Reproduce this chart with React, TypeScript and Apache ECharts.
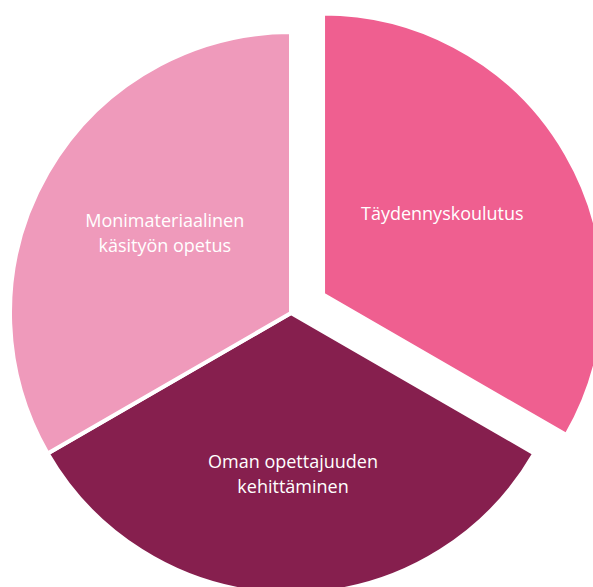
import React, { useEffect, useRef } from "react";
import * as echarts from "echarts";

const categories = ["Täydennyskoulutus", "Oman opettajuuden\nkehittäminen", "Monimateriaalinen\nkäsityön opetus"];
const values = [1, 1, 1];
const colors = ["#EF5F90", "#861F4E", "#EF9ABB"];
const selectedFlags = [true, false, false];
const labelShifts = [
  [-5, -10],
  [2, 17],
  [-2, -9],
];

export default function App() {
  const ref = useRef<HTMLDivElement>(null);
  useEffect(() => {
    document.body.style.margin = "0";
    const chart = echarts.init(ref.current!, null, { renderer: "svg" });
    chart.setOption({
      animation: false,
      backgroundColor: "#ffffff",
      series: [
        {
          type: "pie",
          center: [291, 313],
          radius: [0, 281],
          startAngle: 90,
          clockwise: true,
          selectedMode: "multiple",
          selectedOffset: 37,
          avoidLabelOverlap: false,
          itemStyle: { borderColor: "#ffffff", borderWidth: 4 },
          emphasis: { disabled: true },
          label: {
            show: true,
            position: "inside",
            color: "#ffffff",
            fontFamily: "Open Sans",
            fontSize: 18,
            lineHeight: 25,
            align: "center",
          },
          labelLine: { show: false },
          labelLayout: (params: any) => {
            const s = labelShifts[params.dataIndex] || [0, 0];
            return { dx: s[0], dy: s[1] };
          },
          data: categories.map((name, i) => ({
            name,
            value: values[i],
            selected: selectedFlags[i],
            itemStyle: { color: colors[i] },
          })),
        },
      ],
    });
    return () => chart.dispose();
  }, []);
  return <div ref={ref} style={{ position: "fixed", left: 0, top: 0, width: 593, height: 587 }} />;
}
